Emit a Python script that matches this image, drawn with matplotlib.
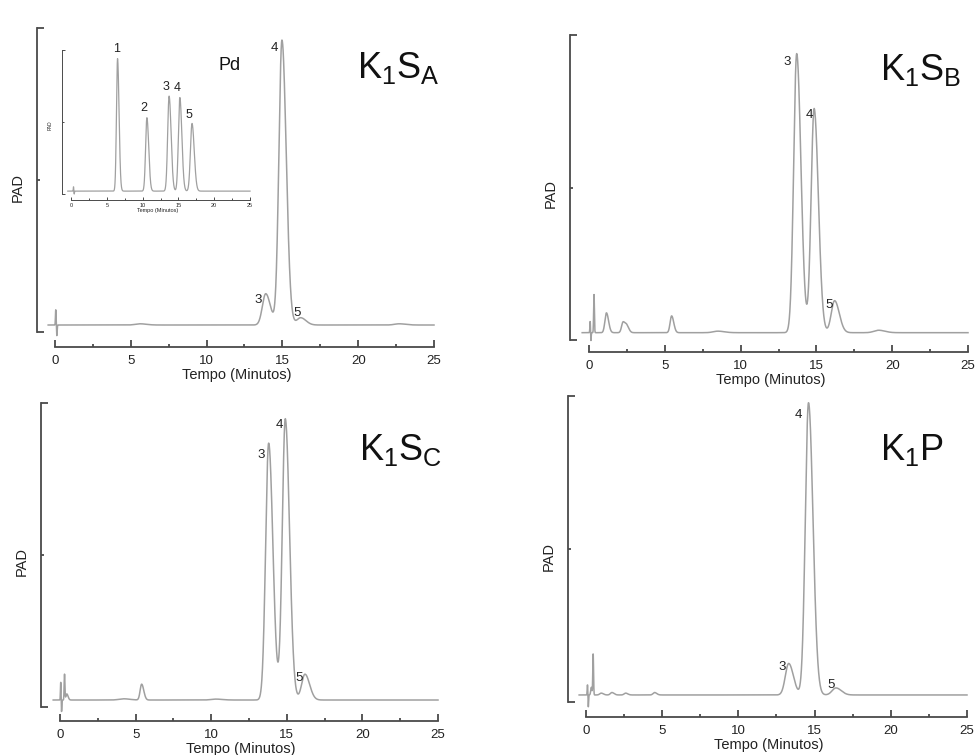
"""Four PAD chromatograms (K1SA, K1SB, K1SC, K1P) with the Pd standard inset."""

import matplotlib

matplotlib.use("Agg")
import matplotlib.pyplot as plt
import numpy as np
from matplotlib.ticker import MultipleLocator

plt.rcParams["font.family"] = ["Liberation Sans", "DejaVu Sans"]
plt.rcParams["mathtext.fontset"] = "custom"
plt.rcParams["mathtext.rm"] = "Liberation Sans"
plt.rcParams["mathtext.it"] = "Liberation Sans:italic"

W, H = 977, 755

# Peak tables: retention time (min), height above the
# baseline (% of the PAD axis), peak sigma (min) and peak number ("" = none).
sa_time = [0.05, 0.12, 5.6, 13.9, 14.97, 16.2, 22.7]
sa_height = [5.0, -3.5, 0.4, 10.3, 93.7, 2.4, 0.4]
sa_width = [0.02, 0.02, 0.3, 0.22, 0.2, 0.25, 0.3]
sa_tag = ["", "", "", "3", "4", "5", ""]
sa_base = 2.3

sb_time = [0.08, 0.12, 0.33, 1.15, 2.25, 2.5, 5.45, 8.5, 13.7, 14.85, 16.2, 19.1]
sb_height = [4.0, -3.0, 12.5, 6.5, 3.5, 2.0, 5.5, 0.5, 91.5, 73.5, 10.5, 0.8]
sb_width = [0.02, 0.02, 0.025, 0.1, 0.1, 0.1, 0.1, 0.3, 0.2, 0.2, 0.22, 0.3]
sb_tag = ["", "", "", "", "", "", "", "", "3", "4", "5", ""]
sb_base = 2.4

sc_time = [0.05, 0.1, 0.3, 0.45, 4.2, 5.4, 10.3, 13.8, 14.9, 16.2]
sc_height = [6.0, -4.0, 8.5, 2.0, 0.4, 5.2, 0.3, 84.5, 92.5, 8.5]
sc_width = [0.02, 0.02, 0.025, 0.06, 0.3, 0.1, 0.3, 0.2, 0.2, 0.22]
sc_tag = ["", "", "", "", "", "", "", "3", "4", "5"]
sc_base = 2.3

kp_time = [0.1, 0.15, 0.35, 0.47, 1.0, 1.7, 2.6, 4.5, 13.3, 14.6, 16.4]
kp_height = [3.5, -4.0, 2.5, 13.5, 0.6, 0.8, 0.6, 0.8, 10.3, 95.5, 2.3]
kp_width = [0.02, 0.02, 0.04, 0.025, 0.1, 0.1, 0.1, 0.1, 0.22, 0.21, 0.25]
kp_tag = ["", "", "", "", "", "", "", "", "3", "4", "5"]
kp_base = 2.3

pd_time = [0.35, 0.45, 6.5, 10.6, 13.7, 15.2, 16.9]
pd_height = [3.0, -2.0, 92.0, 51.0, 66.0, 65.0, 47.0]
pd_width = [0.03, 0.03, 0.15, 0.18, 0.2, 0.2, 0.22]
pd_tag = ["", "", "1", "2", "3", "4", "5"]
pd_base = 2.0

panel_names = [
    r"K$_\mathregular{1}$S$_\mathregular{A}$",
    r"K$_\mathregular{1}$S$_\mathregular{B}$",
    r"K$_\mathregular{1}$S$_\mathregular{C}$",
    r"K$_\mathregular{1}$P",
]

TRACE = "#a0a0a0"
AXIS = "#4a4a4a"
TAIL = 1.4


def chromatogram(t, times, heights, widths, base):
    y = np.full_like(t, base)
    for t0, h, s in zip(times, heights, widths):
        sigma = np.where(t < t0, s, s * TAIL if s > 0.05 else s)
        y += h * np.exp(-0.5 * ((t - t0) / sigma) ** 2)
    return y


def make_axes(fig, spine_x, x0, x25, top, bottom, xspine, small=False):
    scale = (x25 - x0) / 25.0
    right = x25 + 3
    ax = fig.add_axes(
        [spine_x / W, 1 - xspine / H, (right - spine_x) / W, (xspine - top) / H]
    )
    ax.set_xlim(-(x0 - spine_x) / scale, 25 + 3 / scale)
    ax.set_ylim(-(xspine - bottom) / (bottom - top) * 100, 100)
    ax.patch.set_alpha(0)
    for side in ("top", "right"):
        ax.spines[side].set_visible(False)
    lw = 0.7 if small else 1.3
    for side in ("left", "bottom"):
        ax.spines[side].set_color(AXIS)
        ax.spines[side].set_linewidth(lw)
    ax.spines["left"].set_bounds(0, 100)
    ax.spines["bottom"].set_bounds(0, 25)
    ax.set_xticks(range(0, 26, 5))
    ax.xaxis.set_minor_locator(MultipleLocator(2.5))
    ax.set_yticks([0, 100])
    ax.set_yticks([50], minor=True)
    ax.set_yticklabels([])
    f = 0.45 if small else 1.0
    ax.tick_params(axis="x", which="major", direction="in", length=5 * f,
                   width=lw, color=AXIS, pad=5.5 * f,
                   labelsize=4 if small else 9.5, labelcolor="#222222")
    ax.tick_params(axis="x", which="minor", direction="in", length=2.5 * f,
                   width=lw, color=AXIS)
    ax.tick_params(axis="y", which="major", direction="in", length=5 * f,
                   width=lw, color=AXIS)
    ax.tick_params(axis="y", which="minor", direction="in", length=2.5 * f,
                   width=lw, color=AXIS)
    ax.set_xlabel("Tempo (Minutos)", fontsize=4 if small else 10.5,
                  labelpad=0 if small else 1, color="#222222")
    ax.set_ylabel("PAD", fontsize=3.5 if small else 10.5,
                  labelpad=3 if small else 5, color="#222222")
    return ax


def label_peaks(ax, times, heights, tags, base, offsets, size):
    k = 0
    for t0, h, tag in zip(times, heights, tags):
        if not tag:
            continue
        dx, dy = offsets[k]
        ax.text(t0 + dx, base + h + dy, tag, fontsize=size, ha="center",
                va="center", color="#222222")
        k += 1


fig = plt.figure(figsize=(W / 100, H / 100), dpi=100)
t = np.linspace(-0.45, 25.0, 3000)

panels = [
    # data, axes box (px), label offsets, name position (px)
    ((sa_time, sa_height, sa_width, sa_tag, sa_base),
     (37, 55, 434, 28, 332, 347),
     [(-0.5, -2.0), (-0.5, -2.6), (-0.2, 1.5)], (357, 78)),
    ((sb_time, sb_height, sb_width, sb_tag, sb_base),
     (570, 589, 968, 35, 340, 352),
     [(-0.6, -2.6), (-0.3, -2.2), (-0.35, -1.5)], (880, 80)),
    ((sc_time, sc_height, sc_width, sc_tag, sc_base),
     (41, 60, 438, 403, 707, 721),
     [(-0.5, -4.0), (-0.4, -2.2), (-0.4, -1.3)], (359, 460)),
    ((kp_time, kp_height, kp_width, kp_tag, kp_base),
     (568, 586, 967, 396, 702, 717),
     [(-0.45, -1.2), (-0.65, -4.0), (-0.3, 1.0)], (880, 460)),
]

for (times, heights, widths, tags, base), box, offs, pos in panels:
    ax = make_axes(fig, *box)
    ax.plot(t, chromatogram(t, times, heights, widths, base), color=TRACE,
            lw=1.1, clip_on=False)
    label_peaks(ax, times, heights, tags, base, offs, 9.5)

for name, (_, _, _, pos) in zip(panel_names, panels):
    fig.text(pos[0] / W, 1 - pos[1] / H, name, fontsize=26, ha="left",
             va="baseline", color="#111111")

# Pd standard inset inside the K1SA panel
inset = make_axes(fig, 62, 71, 250, 50, 194, 200, small=True)
inset.plot(t, chromatogram(t, pd_time, pd_height, pd_width, pd_base),
           color=TRACE, lw=0.9, clip_on=False)
label_peaks(inset, pd_time, pd_height, pd_tag, pd_base,
            [(-0.1, 6.6), (-0.4, 7.0), (-0.5, 6.0), (-0.3, 6.6), (-0.4, 6.0)], 9)
fig.text(230 / W, 1 - 66 / H, "Pd", fontsize=13, ha="center", va="center",
         color="#111111")

fig.savefig("out.png", dpi=100)
